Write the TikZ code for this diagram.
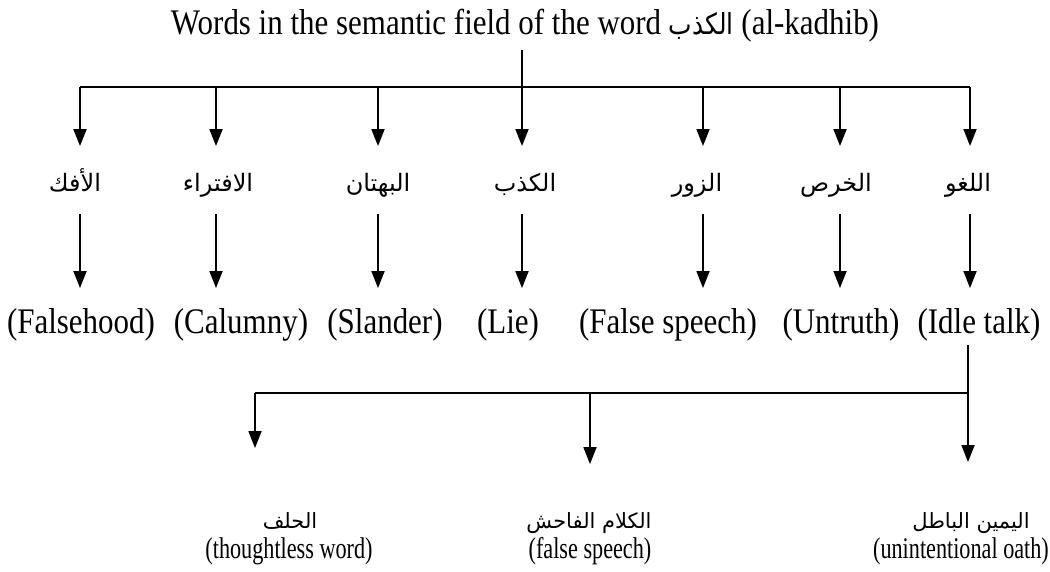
\documentclass[tikz,border=0pt]{standalone}
\usepackage{fontspec}
\setmainfont{Liberation Serif}
\newfontfamily\arabicfont[Script=Arabic]{DejaVu Sans}
\TeXXeTstate=1
\usetikzlibrary{arrows.meta}
% Arabic words set right to left
\newcommand\arword[1]{{\arabicfont\beginR #1\endR}}
% condensed Latin text
\newcommand\cond[1]{\scalebox{0.86}[1]{#1}}
\newcommand\condsm[1]{\scalebox{0.74}[1]{#1}}

\begin{document}
\begin{tikzpicture}[x=1pt, y=-1pt, line width=1.8pt,
  big/.style={font=\fontsize{36}{40}\selectfont, inner sep=0pt, anchor=base},
  small/.style={font=\fontsize{30}{34}\selectfont, inner sep=0pt, anchor=base},
  arw/.style={font=\fontsize{24}{28}\selectfont, inner sep=0pt, anchor=base},
  arwsmall/.style={font=\fontsize{21}{24}\selectfont, inner sep=0pt, anchor=base},
  arr/.style={-{Triangle[width=13pt,length=17pt]}}]
\useasboundingbox (0,0) rectangle (1050,571);

% heading and its stem
\node[big] (title) at (525,34) {\cond{Words in the semantic field of the word {\fontsize{29}{34}\selectfont\arword{الكذب}} (al-kadhib)}};
\coordinate (stem) at (522,50);

% the seven words, each with its translation
\foreach \i/\x/\xa/\xe/\a/\e in {
    1/80/75/81/الأفك/(Falsehood),
    2/216/218/241/الافتراء/(Calumny),
    3/378/378/385/البهتان/(Slander),
    4/522/525/508/الكذب/(Lie),
    5/703/697/668/الزور/(False speech),
    6/840/836/841/الخرص/(Untruth),
    7/970/968/979/اللغو/(Idle talk)} {
  \coordinate (top\i) at (\x,87);
  \coordinate (tip\i) at (\x,146);
  \coordinate (from\i) at (\x,214);
  \coordinate (to\i) at (\x,288);
  \node[arw] (a\i) at (\xa,191) {\arword{\a}};
  \node[big] (e\i) at (\xe,333) {\cond{\e}};
  \draw[arr] (top\i) -- (tip\i);
  \draw[arr] (from\i) -- (to\i);
}
\draw (stem) -- (top4);
\draw (top1) -- (top7);

% branches of "Idle talk"
\coordinate (it) at (968,345);
\coordinate (bj) at (968,393);
\coordinate (bl) at (255,393);
\coordinate (bm) at (590,393);
\coordinate (bltip) at (255,448);
\coordinate (bmtip) at (590,464);
\coordinate (bjtip) at (968,462);
\draw (it) -- (bj);
\draw (bl) -- (bj);
\draw[arr] (bl) -- (bltip);
\draw[arr] (bm) -- (bmtip);
\draw[arr] (bj) -- (bjtip);

\node[arwsmall] (ba1) at (290,528) {\arword{الحلف}};
\node[small] (be1) at (289,558) {\condsm{(thoughtless word)}};
\node[arwsmall] (ba2) at (589,528) {\arword{الكلام الفاحش}};
\node[small] (be2) at (590,558) {\condsm{(false speech)}};
\node[arwsmall] (ba3) at (971,528) {\arword{اليمين الباطل}};
\node[small] (be3) at (961,558) {\condsm{(unintentional oath)}};
\end{tikzpicture}
\end{document}
